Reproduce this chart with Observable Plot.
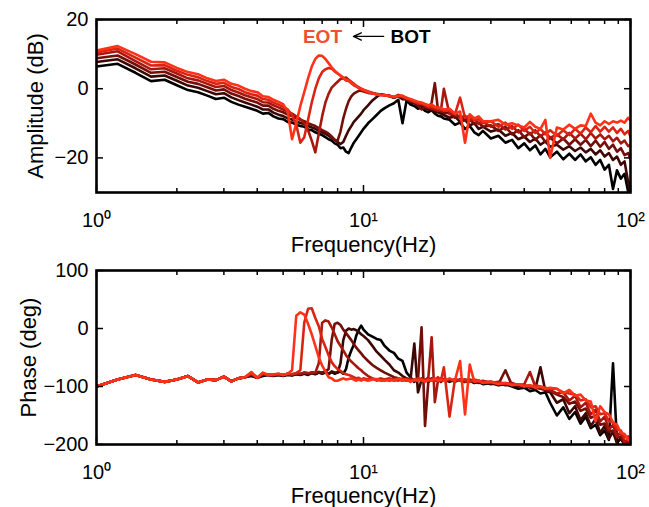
<!DOCTYPE html>
<html><head><meta charset="utf-8">
<script src="https://cdn.jsdelivr.net/npm/d3@7"></script>
<script src="https://cdn.jsdelivr.net/npm/@observablehq/plot@0.6"></script>
<style>html,body{margin:0;padding:0;background:#fff}#chart svg{display:block}</style>
</head><body><div id="chart"></div>
<script>
// Frequency bins (Hz)
const freq = [1.0,1.2,1.4,1.6,1.8,2.0,2.2,2.4,2.6,2.8,
3.0,3.2,3.4,3.6,3.8,4.0,4.2,4.4,4.6,4.8,
5.0,5.2,5.4,5.6,5.8,6.0,6.2,6.4,6.6,6.8,
7.0,7.2,7.4,7.6,7.8,8.0,8.2,8.4,8.6,8.8,
9.0,9.2,9.4,9.6,9.8,10.0,
10.4,10.8,11.2,11.6,12.0,
12.5,13,13.5,14,14.5,15,15.5,16,16.5,17,17.5,18,18.5,19,19.5,20,
21,22,23,24,25,26,27,28,
30,32,34,36,38,40,42,44,46,48,50,
53,56,59,62,65,68,71,74,77,80,83,86,89,92,95,98,100];

const seriesNames = ["BOT","t2","t3","t4","t5","EOT"];
const seriesColors = ["#000000","#3c0704","#730e08","#a8170d","#d92413","#ff3219"];

// Amplitude (dB)
const ampS0 = [6.4,7.2,4.6,2.2,2.6,1.0,-0.4,-1.0,-2.0,-3.0,
-2.6,-3.8,-4.6,-5.2,-5.8,-6.4,-7.2,-7.0,-8.0,-8.6,
-8.8,-9.6,-9.8,-10.4,-10.8,-11.0,-11.8,-12.0,-12.6,-13.0,
-13.4,-14.0,-14.6,-15.0,-15.8,-16.2,-17.2,-17.0,-18.2,-18.6,
-17.0,-15.6,-14.6,-13.6,-12.6,-11.6,
-10.0,-8.8,-7.6,-6.4,-5.6,
-4.8,-4.2,-3.2,-10.0,-3.4,-4.6,-5.0,-5.8,-5.4,-6.4,-6.8,-6.2,-7.2,-7.8,-8.0,-8.6,
-9.0,-10.4,-9.8,-11.6,-10.8,-12.6,-13.4,-12.2,
-14.4,-13.6,-15.6,-14.8,-17.2,-15.8,-17.8,-16.4,-19.0,-17.4,-19.8,
-18.2,-20.4,-18.8,-20.6,-19.0,-21.0,-19.8,-22.0,-20.6,-23.4,-22.0,-29.0,-23.6,-26.0,-24.6,-29.8,-27.0];
const ampS1 = [7.7,8.5,5.9,3.5,3.8,2.3,0.9,0.3,-0.7,-1.6,
-1.3,-2.5,-3.3,-4.0,-4.6,-5.2,-6.0,-6.0,-6.9,-7.5,
-7.9,-8.6,-8.9,-9.5,-9.9,-10.2,-10.8,-11.2,-11.6,-12.2,
-12.6,-13.0,-13.6,-14.2,-14.8,-15.4,-16.0,-15.4,-13.6,-12.0,
-10.8,-9.6,-8.8,-8.0,-7.2,-6.2,
-4.8,-3.4,-2.4,-1.6,-1.8,
-2.2,-2.6,-2.2,-3.0,-3.0,-4.0,-4.2,-5.0,-4.6,-5.6,-6.0,-6.4,-6.6,-6.8,-7.2,-7.6,
-8.4,-8.0,-9.6,-9.0,-10.6,-10.0,-11.6,-11.0,
-12.4,-11.8,-13.6,-12.8,-14.6,-13.8,-15.4,-14.4,-16.2,-15.2,-16.8,
-16.2,-17.6,-16.6,-18.0,-17.0,-18.4,-17.4,-19.0,-17.8,-19.6,-18.6,-20.6,-19.6,-22.0,-21.0,-27.0,-29.5];
const ampS2 = [8.8,9.6,7.0,4.6,4.9,3.4,2.0,1.4,0.4,-0.5,
-0.2,-1.4,-2.1,-2.9,-3.5,-4.0,-4.9,-4.9,-5.8,-6.4,
-6.8,-7.5,-7.9,-8.5,-9.0,-9.4,-10.0,-10.4,-10.8,-11.4,
-12.0,-12.4,-13.0,-13.8,-14.8,-15.0,-12.4,-8.6,-5.8,-3.6,
-2.2,-1.4,-1.0,-0.6,-0.6,-0.8,
-1.2,-1.4,-1.6,-1.8,-1.9,
-2.0,-2.6,-2.0,-2.6,-3.2,-3.6,-4.0,-4.8,-6.0,-5.2,-5.6,-4.0,1.6,-6.0,-6.6,-7.0,
-7.0,-8.4,-7.8,-9.2,-8.8,-10.2,-9.8,-11.0,
-10.6,-12.2,-11.0,-13.2,-12.0,-14.0,-12.8,-14.8,-13.4,-15.4,-14.2,
-15.8,-14.4,-16.2,-14.6,-16.2,-14.8,-16.6,-15.0,-16.8,-15.4,-17.4,-16.2,-18.2,-17.2,-19.2,-18.6,-20.4];
const ampS3 = [9.8,10.8,8.0,5.6,5.9,4.4,3.0,2.4,1.4,0.5,
0.8,-0.4,-1.1,-1.9,-2.5,-3.0,-3.9,-4.0,-4.8,-5.4,
-6.0,-6.6,-7.2,-8.0,-8.8,-10.0,-12.0,-15.0,-18.4,-13.0,
-8.0,-4.0,-1.5,0.3,1.2,2.0,2.8,3.0,3.2,2.6,
2.0,1.4,0.8,0.4,0.0,-0.3,
-0.8,-1.2,-1.5,-1.7,-1.8,
-2.1,-2.4,-1.8,-2.4,-2.8,-3.4,-3.6,-4.4,-4.2,-5.0,-5.4,-5.8,-6.0,-6.4,-6.2,0.0,
-7.4,-7.0,-8.4,-7.8,-9.4,-8.6,-10.2,-9.6,
-11.0,-10.2,-11.8,-10.8,-12.6,-11.6,-13.2,-12.0,-13.8,-12.6,-14.2,
-13.2,-14.6,-12.8,-14.4,-13.0,-14.6,-12.8,-14.4,-13.2,-14.6,-13.6,-15.2,-14.2,-15.8,-15.0,-16.6,-16.2];
const ampS4 = [10.5,11.6,9.0,6.7,6.8,5.2,4.0,3.3,2.2,1.4,
1.7,0.5,-0.1,-1.0,-1.6,-2.0,-3.0,-3.2,-4.0,-4.6,
-5.2,-6.0,-7.6,-10.4,-15.6,-14.0,-9.0,-4.0,0.0,3.0,
4.8,5.6,6.0,5.8,5.0,4.4,3.8,3.0,2.4,2.2,
1.6,1.0,0.6,0.2,-0.2,-0.5,
-1.0,-1.4,-1.6,-1.8,-1.9,
-2.0,-2.5,-2.0,-2.2,-2.6,-3.2,-3.8,-4.0,-4.4,-4.6,-5.2,-5.0,-5.6,-5.8,-6.0,-6.4,
-6.2,-7.4,-2.6,-8.4,-7.8,-9.2,-8.8,-10.0,
-9.4,-11.0,-9.8,-11.6,-10.4,-12.2,-11.0,-12.8,-11.6,-13.2,-12.0,
-13.6,-12.0,-13.4,-11.6,-13.0,-11.2,-12.6,-10.8,-12.4,-11.0,-12.4,-11.2,-12.8,-11.6,-13.2,-12.2,-13.8];
const ampS5 = [11.0,12.3,10.0,7.8,7.6,6.0,4.8,4.2,3.0,2.2,
2.6,1.4,0.9,0.0,-0.7,-1.0,-2.2,-2.4,-3.2,-3.8,
-4.5,-6.5,-14.6,-10.0,-5.0,-1.0,3.0,6.4,8.6,9.6,
9.5,8.6,7.4,6.2,5.2,4.4,3.8,3.2,2.6,2.4,
1.8,1.2,0.8,0.4,0.0,-0.4,
-0.9,-1.4,-1.6,-1.8,-1.9,
-2.2,-2.3,-2.1,-2.0,-2.8,-3.0,-3.4,-3.8,-4.0,-4.4,-4.8,-4.6,-5.2,-5.4,-5.6,-6.0,
-5.8,-7.2,-6.6,-15.6,-7.4,-8.6,-8.0,-9.4,
-9.4,-9.0,-10.4,-10.0,-10.6,-11.2,-9.6,-11.0,-11.6,-9.0,-20.0,
-11.2,-11.8,-10.4,-11.6,-10.6,-10.8,-7.2,-9.8,-10.6,-9.4,-10.2,-9.4,-9.8,-9.2,-9.8,-8.4,-9.2];

// Phase (deg)
const phS0 = [-100,-88,-80,-88,-92,-88,-82,-93,-88,-89,
-83,-91,-86,-84,-82,-85,-82,-80,-82,-80,
-82,-80,-81,-79,-80,-78,-80,-77,-79,-76,
-78,-76,-79,-75,-78,-76,-74,-78,-70,-50,
-38,-28,-12,-2,5,-2,
-10,-14,-18,-20,-30,
-38,-42,-52,-56,-76,-84,-92,-86,-90,-88,-92,-88,-90,-86,-90,-88,
-92,-88,-90,-92,-90,-94,-92,-96,
-94,-98,-96,-100,-104,-102,-108,-106,-112,-110,-128,
-150,-136,-156,-144,-164,-152,-172,-166,-184,-176,-192,-60,-196,-190,-200,-198,-200];
const phS1 = [-100,-88,-80,-88,-92,-88,-82,-93,-88,-89,
-83,-91,-86,-84,-80,-85,-80,-80,-81,-80,
-81,-79,-80,-78,-79,-77,-79,-76,-78,-75,
-77,-75,-78,-74,-76,-76,-60,-20,-4,0,
-2,-1,-3,-6,-10,-13,
-20,-30,-40,-47,-54,
-62,-72,-76,-82,-86,-88,-26,-110,-88,-90,-86,-90,-88,-90,-88,-90,
-88,-92,-88,-90,-92,-90,-94,-92,
-96,-94,-98,-96,-100,-98,-102,-104,-67,-108,-110,
-128,-122,-146,-134,-158,-146,-168,-156,-180,-168,-190,-178,-198,-188,-200,-196,-200];
const phS2 = [-100,-88,-80,-88,-92,-88,-82,-93,-88,-89,
-83,-91,-86,-84,-79,-85,-79,-80,-81,-79,
-81,-78,-80,-78,-79,-76,-78,-76,-77,-75,
-76,-74,-70,-20,8,10,6,-2,-8,-14,
-20,-27,-33,-38,-43,-48,
-56,-63,-68,-72,-76,
-80,-84,-86,-88,-90,-86,-90,-88,2,-168,-90,-86,-90,-88,-92,-88,
-90,-88,-90,-88,-90,-92,-90,-94,
-92,-96,-72,-98,-96,-100,-98,-102,-104,-106,-108,
-114,-118,-130,-126,-142,-138,-154,-150,-166,-164,-178,-176,-188,-186,-198,-196,-200];
const phS3 = [-100,-88,-80,-88,-92,-88,-82,-93,-88,-89,
-83,-91,-86,-84,-78,-85,-78,-80,-80,-79,
-80,-78,-79,-77,-78,-76,-77,-76,-76,-60,
10,14,12,2,-10,-22,-30,-38,-46,-52,
-57,-61,-65,-69,-72,-76,
-82,-86,-88,-86,-88,
-86,-90,-88,-90,-86,-90,-88,-90,-86,-90,-84,-15,-127,-90,-86,-90,
-88,-90,-88,-92,-88,-90,-92,-90,
-94,-92,-96,-94,-98,-96,-75,-100,-102,-104,-106,
-112,-110,-124,-116,-136,-128,-148,-140,-160,-152,-174,-166,-186,-178,-196,-190,-200];
const phS4 = [-100,-88,-80,-88,-92,-88,-82,-93,-88,-89,
-83,-91,-86,-84,-77,-85,-77,-80,-80,-78,
-80,-78,-79,-77,-72,10,34,35,18,4,
-18,-32,-46,-58,-65,-70,-73,-77,-79,-80,
-82,-84,-86,-85,-88,-86,
-88,-86,-90,-88,-88,
-90,-87,-90,-86,-90,-88,-90,-86,-90,-88,-90,-88,-90,-84,-90,-67,
-152,-88,-90,-88,-92,-88,-90,-92,
-92,-94,-94,-96,-96,-98,-100,-98,-100,-102,-104,
-104,-110,-112,-114,-124,-122,-136,-134,-148,-146,-160,-162,-174,-176,-188,-186,-196];
const phS5 = [-100,-88,-80,-88,-92,-88,-82,-93,-88,-89,
-83,-91,-86,-84,-75,-85,-76,-80,-79,-78,
-80,-78,-72,22,28,24,8,-10,-30,-50,
-64,-74,-84,-86,-90,-90,-88,-86,-88,-87,
-86,-88,-90,-88,-90,-88,
-90,-88,-87,-90,-90,
-88,-90,-86,-90,-88,-92,-88,-90,-88,-92,-88,-90,-86,-90,-88,-90,
-86,-90,-56,-148,-62,-92,-90,-94,
-92,-96,-94,-98,-96,-100,-98,-102,-100,-104,-102,
-104,-112,-106,-116,-114,-124,-126,-160,-134,-144,-148,-162,-166,-180,-182,-192,-190];

// Axis ticks and labels
const decadeTicks = [1, 10, 100];
const decadeLabels = ["10\u2070", "10\u00B9", "10\u00B2"];
const minorTicks = [2,3,4,5,6,7,8,9,20,30,40,50,60,70,80,90];
const ampTicks = [-20, 0, 20];
const phaseTicks = [-200, -100, 0, 100];
const xLabel = "Frequency(Hz)";
const ampLabel = "Amplitude (dB)";
const phaseLabel = "Phase (deg)";

// Annotation
const annoText = ["EOT", "BOT"];
const annoFreq = [7.02, 15.0];
const annoAmp = [15.1, 15.1];
const annoColors = ["#f0502d", "#000000"];
const arrowFrom = 11.9, arrowTo = 9.17, arrowAmp = 15.1;

const ampSeries = [ampS0, ampS1, ampS2, ampS3, ampS4, ampS5];
const phSeries = [phS0, phS1, phS2, phS3, phS4, phS5];
const toRows = (arrs) => arrs.flatMap((a, i) => a.map((v, j) => ({f: freq[j], v, s: seriesNames[i]})));
const ampRows = toRows(ampSeries);
const phRows = toRows(phSeries);

const font = "'Liberation Sans', Arial, Helvetica, sans-serif";
const fmt = d => d < 0 ? "\u2212" + (-d) : String(d);
const blank = () => "";

function axes(yTicks) {
  return [
    Plot.axisX(decadeTicks, {anchor: "bottom", tickSize: -7, tickPadding: 27, tickFormat: d => decadeLabels[decadeTicks.indexOf(d)], fontSize: 20, label: null, strokeWidth: 1.5}),
    Plot.axisX(minorTicks, {anchor: "bottom", tickSize: -4, tickFormat: blank, label: null, strokeWidth: 1.5}),
    Plot.axisX(decadeTicks, {anchor: "top", tickSize: -7, tickFormat: blank, label: null, strokeWidth: 1.5}),
    Plot.axisX(minorTicks, {anchor: "top", tickSize: -4, tickFormat: blank, label: null, strokeWidth: 1.5}),
    Plot.axisY(yTicks, {anchor: "left", tickSize: -7, tickPadding: 15, tickFormat: fmt, fontSize: 20, label: null, strokeWidth: 1.5}),
    Plot.axisY(yTicks, {anchor: "right", tickSize: -7, tickFormat: blank, label: null, strokeWidth: 1.5})
  ];
}

const style = {fontFamily: font, fontSize: "20px", background: "#fff", overflow: "visible", color: "#000"};

const topPlot = Plot.plot({
  width: 649, height: 254,
  marginLeft: 96, marginRight: 19, marginTop: 19, marginBottom: 62,
  style,
  x: {type: "log", domain: [1, 100]},
  y: {domain: [-30, 20]},
  color: {domain: seriesNames, range: seriesColors},
  marks: [
    Plot.line(ampRows, {x: "f", y: "v", z: "s", stroke: "s", strokeWidth: 2.6, clip: true}),
    ...axes(ampTicks),
    Plot.frame({stroke: "#000", strokeWidth: 2.6}),
    Plot.text(annoText, {x: (d, i) => annoFreq[i], y: (d, i) => annoAmp[i], text: d => d, fill: (d, i) => annoColors[i], fontWeight: "bold", fontSize: 19}),
    Plot.arrow([0], {x1: () => arrowFrom, x2: () => arrowTo, y1: () => arrowAmp, y2: () => arrowAmp, stroke: "#000", strokeWidth: 1.3, headLength: 10, headAngle: 50}),
    Plot.text([xLabel], {frameAnchor: "bottom", lineAnchor: "middle", dy: 52, fontSize: 22}),
    Plot.text([ampLabel], {frameAnchor: "left", textAnchor: "middle", lineAnchor: "middle", dx: -61, rotate: -90, fontSize: 22})
  ]
});

const botPlot = Plot.plot({
  width: 649, height: 253,
  marginLeft: 96, marginRight: 19, marginTop: 16, marginBottom: 63,
  style,
  x: {type: "log", domain: [1, 100]},
  y: {domain: [-200, 100]},
  color: {domain: seriesNames, range: seriesColors},
  marks: [
    Plot.line(phRows, {x: "f", y: "v", z: "s", stroke: "s", strokeWidth: 2.6, clip: true}),
    ...axes(phaseTicks),
    Plot.frame({stroke: "#000", strokeWidth: 2.6}),
    Plot.text([xLabel], {frameAnchor: "bottom", lineAnchor: "middle", dy: 51, fontSize: 22}),
    Plot.text([phaseLabel], {frameAnchor: "left", textAnchor: "middle", lineAnchor: "middle", dx: -68, rotate: -90, fontSize: 22})
  ]
});

document.getElementById("chart").append(topPlot, botPlot);
</script>
</body></html>
